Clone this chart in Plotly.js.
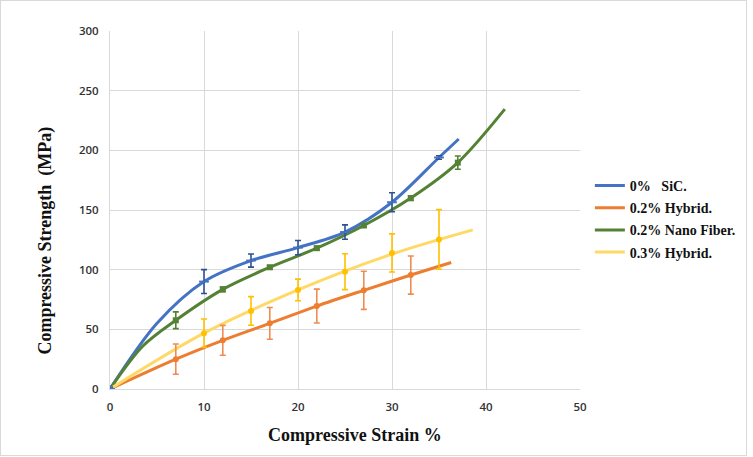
<!DOCTYPE html>
<html>
<head>
<meta charset="utf-8">
<script src="https://cdn.plot.ly/plotly-3.0.1.min.js"></script>
<style>
  html, body { margin: 0; padding: 0; background: #fff; }
  #wrap { position: relative; width: 753px; height: 457px; }
  #chart { width: 753px; height: 457px; }
  #frame { position: absolute; left: 0; top: 0; width: 745px; height: 454px;
           border: 1px solid #d9d9d9; pointer-events: none; }
</style>
</head>
<body>
<div id="wrap">
  <div id="chart"></div>
  <div id="frame"></div>
</div>
<script>
// Series names
const seriesNames = ['0%   SiC.', '0.2% Hybrid.', '0.2% Nano Fiber.', '0.3% Hybrid.'];

// Measured points (strain %, strength MPa, error MPa)
const sicStrain = [0, 10, 15, 20, 25, 30, 35];
const sicStress = [0, 90, 107.6, 118.5, 131.5, 156.5, 194];
const sicError  = [0, 10, 5.5, 6, 6, 8, 1.5];

const hyb02Strain = [0, 7, 12, 17, 22, 27, 32];
const hyb02Stress = [0, 25, 40.8, 55, 69.5, 82.7, 95.5];
const hyb02Error  = [0, 12.7, 12.5, 13.3, 14.2, 16, 16];

const fiberStrain = [0, 7, 12, 17, 22, 27, 32, 37];
const fiberStress = [0, 57.6, 83.5, 102, 118, 137, 160, 189.7];
const fiberError  = [0, 7, 2, 1.5, 1.5, 1.5, 2, 5.5];

const hyb03Strain = [0, 10, 15, 20, 25, 30, 35];
const hyb03Stress = [0, 46.8, 65.4, 83, 98.3, 114, 125.3];
const hyb03Error  = [0, 11.8, 12, 9.1, 15, 16, 25];

// Smoothed curves
const sicCurveX = [0, 5, 10, 15, 20, 25, 30, 35, 37.1];
const sicCurveY = [0, 55, 90, 107.6, 118.5, 131.5, 156.5, 194, 209.5];

const hyb02CurveX = [0, 7, 12, 17, 22, 27, 32, 36.3];
const hyb02CurveY = [0, 25, 40.8, 55, 69.5, 82.7, 95.5, 106];

const fiberCurveX = [0, 3.5, 7, 12, 17, 22, 27, 32, 37, 42];
const fiberCurveY = [0, 36, 57.6, 83.5, 102, 118, 137, 160, 189.7, 234.5];

const hyb03CurveX = [0, 10, 20, 30, 38.6];
const hyb03CurveY = [0, 46.8, 83, 113, 133.3];

// Axis ticks
const xTicks = [0, 10, 20, 30, 40, 50];
const yTicks = [0, 50, 100, 150, 200, 250, 300];

const lineColors  = ['#4472C4', '#ED7D31', '#548235', '#FFD966'];
const markColors  = ['#4472C4', '#ED7D31', '#548235', '#FFC000'];
const errColors   = ['#2F528F', '#F08C50', '#548235', '#FFC000'];

const curves = [
  [sicCurveX, sicCurveY], [hyb02CurveX, hyb02CurveY],
  [fiberCurveX, fiberCurveY], [hyb03CurveX, hyb03CurveY]
];
const points = [
  [sicStrain, sicStress, sicError], [hyb02Strain, hyb02Stress, hyb02Error],
  [fiberStrain, fiberStress, fiberError], [hyb03Strain, hyb03Stress, hyb03Error]
];
const symbols = ['line-ew', 'circle', 'square', 'circle'];

const traces = [];
// lines first, legend shows lines only
curves.forEach((c, i) => {
  traces.push({
    type: 'scatter', mode: 'lines', x: c[0], y: c[1], name: seriesNames[i],
    legendgroup: 'g' + i,
    line: { color: lineColors[i], width: 3, shape: 'spline', smoothing: 0.9 },
    hoverinfo: 'skip'
  });
});
points.forEach((p, i) => {
  traces.push({
    type: 'scatter', mode: 'markers', x: p[0], y: p[1], showlegend: false,
    legendgroup: 'g' + i,
    marker: {
      color: markColors[i], size: i === 0 ? 7 : 6, symbol: symbols[i],
      line: { color: markColors[i], width: i === 0 ? 2 : 0 }
    },
    error_y: { type: 'data', array: p[2], visible: true, color: errColors[i],
               thickness: 1.6, width: 3 }
  });
});
// dot at origin for the SiC series
traces.push({
  type: 'scatter', mode: 'markers', x: [sicStrain[0]], y: [sicStress[0]],
  showlegend: false, legendgroup: 'g0', marker: { color: '#4472C4', size: 7 }
});

const tickFont = { family: 'Open Sans, sans-serif', size: 11.5, color: '#333', weight: 600 };
const titleFont = { family: 'Liberation Serif, serif', size: 18, color: '#111', weight: 700 };

const layout = {
  width: 753, height: 457,
  margin: { l: 110, r: 173, t: 31, b: 68, autoexpand: false },
  paper_bgcolor: '#fff', plot_bgcolor: '#fff',
  showlegend: true,
  legend: {
    x: 0.021, xref: 'paper', y: 0.612, xanchor: 'left', yanchor: 'top',
    font: { family: 'Liberation Serif, serif', size: 14, color: '#111', weight: 700 },
    bgcolor: 'rgba(0,0,0,0)', borderwidth: 0, tracegroupgap: 1
  },
  xaxis: {
    range: [0, 50], tickvals: xTicks, ticktext: xTicks.map(String),
    showgrid: true, gridcolor: '#d9d9d9', gridwidth: 1,
    zeroline: false, showline: true, linecolor: '#d9d9d9', linewidth: 1,
    ticks: 'outside', ticklen: 7, tickcolor: 'rgba(0,0,0,0)',
    tickfont: tickFont, fixedrange: true
  },
  yaxis: {
    range: [0, 300], tickvals: yTicks, ticktext: yTicks.map(String),
    showgrid: true, gridcolor: '#d9d9d9', gridwidth: 1,
    zeroline: false, showline: true, linecolor: '#d9d9d9', linewidth: 1,
    ticks: 'outside', ticklen: 8, tickcolor: 'rgba(0,0,0,0)',
    tickfont: tickFont, fixedrange: true
  },
  annotations: [
    { text: 'Compressive Strain %', xref: 'paper', yref: 'paper',
      x: 0.521, y: -0.128, xanchor: 'center', yanchor: 'middle',
      showarrow: false, font: titleFont },
    { text: 'Compressive Strength  (MPa)', xref: 'paper', yref: 'paper',
      x: -0.138, y: 0.415, xanchor: 'center', yanchor: 'middle', textangle: -90,
      showarrow: false, font: titleFont }
  ]
};
// legend sits just right of the plot area
layout.legend.x = 1 + layout.legend.x;

Plotly.newPlot('chart', traces, layout, { displayModeBar: false, staticPlot: true });
</script>
</body>
</html>
